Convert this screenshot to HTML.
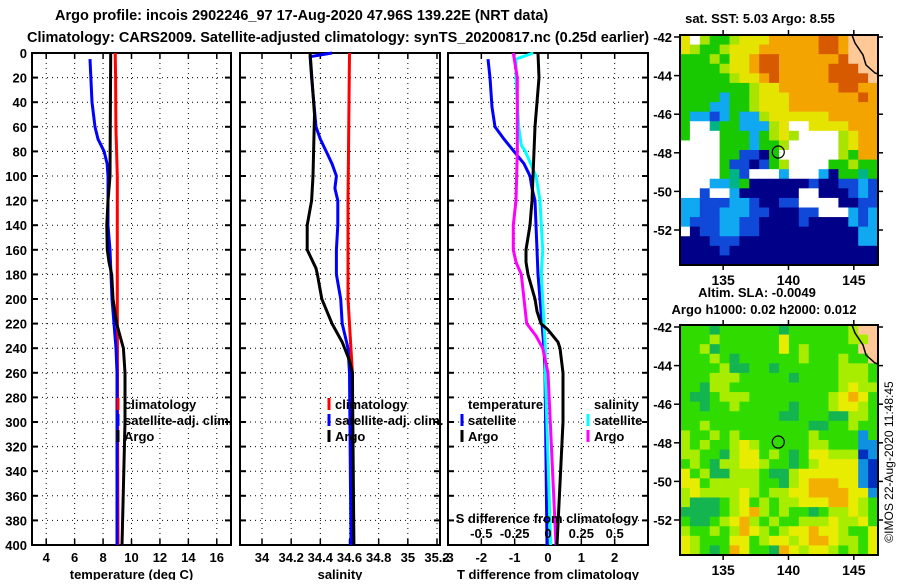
<!DOCTYPE html>
<html><head><meta charset="utf-8"><style>
html,body{margin:0;padding:0;background:#fff;}
svg text{font-family:"Liberation Sans",sans-serif;font-weight:bold;font-size:13px;fill:#000;}
svg text.big{font-size:14.5px;}
</style></head><body>
<svg id="fig" width="900" height="580" viewBox="0 0 900 580" xmlns="http://www.w3.org/2000/svg">
<text class="big" x="55" y="20">Argo profile: incois 2902246_97 17-Aug-2020 47.96S 139.22E (NRT data)</text>
<text class="big" x="27" y="42">Climatology: CARS2009. Satellite-adjusted climatology: synTS_20200817.nc (0.25d earlier)</text>
<text x="760" y="23" text-anchor="middle">sat. SST: 5.03 Argo: 8.55</text>
<text x="757" y="297" text-anchor="middle">Altim. SLA: -0.0049</text>
<text x="764" y="314" text-anchor="middle">Argo h1000: 0.02 h2000: 0.012</text>
<text transform="translate(893,462) rotate(-90)" text-anchor="middle" style="font-weight:normal;font-size:12px">©IMOS 22-Aug-2020 11:48:45</text>
<g id="plots"></g>
</svg>
<script>
// ---- Panel 1: temperature (deg C) vs depth (m)
const tClimDepth=[0,20,60,80,100,200,300,400];
const tClimVal=[8.85,8.88,8.9,8.95,9.0,9.0,9.02,9.05];
const tArgoDepth=[0,100,120,140,160,170,180,200,220,230,240,260,300,400];
const tArgoVal=[8.54,8.49,8.35,8.26,8.30,8.42,8.61,8.70,8.96,9.19,9.43,9.54,9.54,9.33];
const tSatDepth=[5,40,60,70,80,90,100,120,140,160,200,240,260,400];
const tSatVal=[7.08,7.22,7.43,7.64,8.07,8.28,8.35,8.35,8.35,8.49,8.63,8.91,8.98,8.98];
const tTicks=[4,6,8,10,12,14,16];
// ---- Panel 2: salinity
const sClimDepth=[0,120,200,260,400];
const sClimVal=[34.60,34.59,34.59,34.62,34.62];
const sArgoDepth=[0,50,100,120,140,160,165,175,180,200,220,235,250,260,400];
const sArgoVal=[34.33,34.36,34.35,34.34,34.31,34.31,34.33,34.37,34.38,34.41,34.48,34.55,34.60,34.62,34.63];
const sSatDepth=[0,3,20,60,70,80,90,100,110,120,140,160,180,200,220,240,260,400];
const sSatVal=[34.48,34.33,34.34,34.37,34.40,34.44,34.48,34.51,34.50,34.52,34.52,34.51,34.51,34.54,34.55,34.59,34.60,34.61];
const sTicks=[34,34.2,34.4,34.6,34.8,35,35.2];
// ---- Panel 3: differences from climatology
const dTSatDepth=[5,20,44,60,70,80,90,100,110,120,140,160,180,200,220,240,260,400];
const dTSatVal=[-1.80,-1.74,-1.68,-1.59,-1.32,-1.02,-0.72,-0.54,-0.48,-0.39,-0.36,-0.33,-0.30,-0.24,-0.18,-0.12,-0.09,-0.03];
const dTArgoDepth=[0,20,60,100,120,140,160,170,180,200,210,220,225,235,240,260,300,400];
const dTArgoVal=[-0.30,-0.27,-0.39,-0.45,-0.48,-0.54,-0.66,-0.66,-0.60,-0.39,-0.33,-0.21,0,0.30,0.36,0.45,0.45,0.27];
const dSSatDepth=[0,5,20,60,75,80,100,120,140,160,180,220,240,260,400];
const dSSatVal=[-0.11,-0.24,-0.24,-0.22,-0.20,-0.17,-0.09,-0.06,-0.05,-0.04,-0.05,-0.03,-0.02,-0.02,0.02];
const dSArgoDepth=[0,20,80,120,140,160,170,180,200,220,230,240,250,260,400];
const dSArgoVal=[-0.26,-0.23,-0.23,-0.24,-0.26,-0.26,-0.24,-0.20,-0.18,-0.16,-0.09,-0.04,-0.02,0,0.06];
const dTTicks=[-3,-2,-1,0,1,2];
const dTTickLabels=["-3","-2","-1","0","1","2"];
const dSTicks=[-0.5,-0.25,0,0.25,0.5];
const dSTickLabels=["-0.5","-0.25","0","0.25","0.5"];
const depthTicks=[0,20,40,60,80,100,120,140,160,180,200,220,240,260,280,300,320,340,360,380,400];
// ---- Maps (colour-code grids)
const sstGrid=[
"ywlgglyyyoooooOOoLLL","ylgglyyyooooooOOoLLL","ggglgyyoOOooooooOLLL","gggglyyoOOoooooOOOLL",
"ggggglyyoOoooooOOOOL","ggggggglyyooooooOOoo","ggggcgglyyyoooooooOo","gggccgglyyyooooooooo",
"gccbcgcclyyyyyyooooo","gwwtggccclywwyyyyooo","gwwwgggcglylwwwwlyoo","wwwwgggcgglwwwwwlyoo",
"wwwwggbbngwwwwwwlgoo","wwwwgbbnbglwwwwgglgg","wwwwgtbwwwcwwwcnggtg","wwwcctgnnnnnnbnnbbcb",
"wwbwwcnnnnnnwwnnnbcb","ccbbbccbnnbbwwwwnnbb","ccbbcccbbnnnbbwwwcbc","cbbbccbbnnnnbnnnncbc",
"wnbbccbbnnnnnnnnnncc","nnnbbbnnnnnnnnnnnncc","nnnnbnnnnnnnnnnnnnnn","nnnnnnnnnnnnnnnnnnnn"];
const slaGrid=[
"gggGggggggGgggggglLL","ggglggggggyggggggllL","gglGggggggyglgggggLL","ggglgGgggggglggglggL",
"gggglGGggGgggggglllg","ggglllgggggGgggglllg","ggGllggggggggggglyll","gGGglllgggggggglyoyg",
"ggGgglgggggGggglyylg","ggggggggggGGgggGGllg","gglggggggggggGGgglgg","lgglglggggggglggggbg",
"lglgglylgggggllgggbb","llggGlyyglgGgyylllBb","glgGllyylggGglyyyybB","yglGGlllgGGlyyyyyybB",
"yyglllllggGlyoooyybB","lyllllylgllyyooooyyb","lGGGglyglgllyyyooylg","GGGGglyolglggGgllylg",
"gGGglyolglgglllyllyg","lgglgloylglyyoyylggy","ylgggyyglyylyooyllgy","ylgGgoyggGoylyylglgy"];
const sstColors={O:"#d85a00",o:"#f4a400",y:"#e4e400",l:"#a8e400",g:"#18c800",t:"#00b488",c:"#10a8f0",b:"#1048d8",n:"#000088",w:"#ffffff",L:"#ffc896"};
const slaColors={g:"#30dc00",G:"#14b450",l:"#a8ec00",y:"#e8ec00",o:"#f4b000",b:"#1090e0",B:"#0030c0",L:"#ffc896"};
const mapLatTicks=[-42,-44,-46,-48,-50,-52];
const mapLonTicks=[135,140,145];
const argoLon=139.22, argoLat=-47.96;

const NS="http://www.w3.org/2000/svg";
const root=document.getElementById('plots');
function mk(tag,attrs,parent){const e=document.createElementNS(NS,tag);for(const k in attrs)e.setAttribute(k,attrs[k]);(parent||root).appendChild(e);return e;}
function txt(x,y,s,anchor,parent,extra){const t=mk('text',Object.assign({x:x,y:y,'text-anchor':anchor||'start'},extra||{}),parent);t.textContent=s;return t;}

const Y0=53,Y1=545;
const yD=d=>Y0+(d/400)*(Y1-Y0);
function lin(d0,d1,r0,r1){return v=>r0+(v-d0)/(d1-d0)*(r1-r0);}

function panel(name,x0,x1,xs,ticks,labels,showDepth,xtitle){
  const g=mk('g',{});
  
  
  ticks.forEach(t=>{const x=xs(t);if(x>x0+1&&x<x1-1){const l=mk('line',{x1:x,x2:x,y1:Y0,y2:Y1,stroke:'#000','stroke-dasharray':'1,4','stroke-width':1},g);}});
  depthTicks.forEach(d=>{const y=yD(d);if(d>0&&d<400){const l=mk('line',{x1:x0,x2:x1,y1:y,y2:y,stroke:'#000','stroke-dasharray':'1,4','stroke-width':1},g);}
    mk('line',{x1:x0,x2:x0+6,y1:y,y2:y,stroke:'#000','stroke-width':2},g);mk('line',{x1:x1-6,x2:x1,y1:y,y2:y,stroke:'#000','stroke-width':2},g);
    if(showDepth){const t=txt(27,y+5,String(d),'end',g);}});
  ticks.forEach((t,i)=>{const x=xs(t);if(x>x0+1&&x<x1-1){mk('line',{x1:x,x2:x,y1:Y0,y2:Y0+6,stroke:'#000','stroke-width':1.5},g);mk('line',{x1:x,x2:x,y1:Y1-6,y2:Y1,stroke:'#000','stroke-width':1.5},g);}
    if(labels){const tl=txt(x,562,labels[i],'middle',g);}});
  const r=mk('rect',{x:x0,y:Y0,width:x1-x0,height:Y1-Y0,fill:'none',stroke:'#000','stroke-width':2},g);
  
  const tt=txt((x0+x1)/2,579,xtitle,'middle',g);
  return g;
}
function series(g,xs,depths,vals,color,w,name){
  const pts=depths.map((d,i)=>xs(vals[i]).toFixed(1)+','+yD(d).toFixed(1)).join(' ');
  const p=mk('polyline',{points:pts,fill:'none',stroke:color,'stroke-width':w},g);
  
  
}
function legend(g,x,y,color,label,name){
  if(color){mk('line',{x1:x,x2:x,y1:y-11,y2:y+1,stroke:color,'stroke-width':3},g);}
  const t=txt(x+6,y,label,'start',g);
  
  
}

const xT=lin(3,17,32,231);
const g1=panel('temperature-panel',32,231,xT,tTicks,tTicks.map(String),true,'temperature (deg C)');
series(g1,xT,tClimDepth,tClimVal,'#ff0000',3,'temperature-climatology-line');
series(g1,xT,tSatDepth,tSatVal,'#0000ff',3,'temperature-satellite-line');
series(g1,xT,tArgoDepth,tArgoVal,'#000000',3,'temperature-argo-line');
legend(g1,118,409,'#ff0000','climatology','legend-climatology');
legend(g1,118,425,'#0000ff','satellite-adj. clim.','legend-satellite');
legend(g1,118,441,'#000000','Argo','legend-argo');

const xS=lin(34,35.2,262,437);
const g2=panel('salinity-panel',240,440,xS,sTicks,sTicks.map(String),false,'salinity');
series(g2,xS,sClimDepth,sClimVal,'#ff0000',3,'salinity-climatology-line');
series(g2,xS,sSatDepth,sSatVal,'#0000ff',3,'salinity-satellite-line');
series(g2,xS,sArgoDepth,sArgoVal,'#000000',3,'salinity-argo-line');
legend(g2,329,409,'#ff0000','climatology','legend-climatology');
legend(g2,329,425,'#0000ff','satellite-adj. clim.','legend-satellite');
legend(g2,329,441,'#000000','Argo','legend-argo');

const xDT=lin(-3,3,448,648);
const xDS=lin(-0.75,0.75,448,648);
const g3=panel('difference-panel',448,648,xDT,dTTicks,dTTickLabels,false,'T difference from climatology');
series(g3,xDT,dTSatDepth,dTSatVal,'#0000ff',3,'tdiff-satellite-line');
series(g3,xDS,dSSatDepth,dSSatVal,'#00ffff',3,'sdiff-satellite-line');
series(g3,xDS,dSArgoDepth,dSArgoVal,'#ff00ff',3,'sdiff-argo-line');
series(g3,xDT,dTArgoDepth,dTArgoVal,'#000000',3,'tdiff-argo-line');
legend(g3,462,409,null,'temperature','legend-temperature-heading');
legend(g3,462,425,'#0000ff','satellite','legend-t-satellite');
legend(g3,462,441,'#000000','Argo','legend-t-argo');
legend(g3,588,409,null,'salinity','legend-salinity-heading');
legend(g3,588,425,'#00ffff','satellite','legend-s-satellite');
legend(g3,588,441,'#ff00ff','Argo','legend-s-argo');
const st=txt(547,523,'S difference from climatology','middle',g3);


dSTicks.forEach((v,i)=>{const t=txt(xDS(v),538,dSTickLabels[i],'middle',g3);});

const MX0=680,MX1=878;
const lonX=lin(131.7,146.85,MX0,MX1);
function map(name,top,grid,colors){
  const H=230;
  const g=mk('g',{});
  
  
  const rows=grid.length,cols=grid[0].length,cw=(MX1-MX0)/cols,ch=H/rows;
  grid.forEach((row,r)=>{for(let c=0;c<cols;c++){mk('rect',{x:(MX0+c*cw).toFixed(2),y:(top+r*ch).toFixed(2),width:(cw+0.6).toFixed(2),height:(ch+0.6).toFixed(2),fill:colors[row[c]]||'#fff'},g);}});
  mk('polyline',{points:`${MX0+172},${top} ${MX0+175},${top+8} ${MX0+183},${top+20} ${MX0+186},${top+30} ${MX0+195},${top+38} ${MX1},${top+39}`,fill:'none',stroke:'#000','stroke-width':1.5},g);
  mapLatTicks.forEach(v=>{const y=top+2+(-42-v)/2*38.6;mk('line',{x1:MX0-6,x2:MX0,y1:y,y2:y,stroke:'#000','stroke-width':1.5},g);mk('line',{x1:MX1,x2:MX1+5,y1:y,y2:y,stroke:'#000','stroke-width':1.5},g);
    const t=txt(MX0-8,y+5,String(v),'end',g);});
  mapLonTicks.forEach(v=>{const x=lonX(v);mk('line',{x1:x,x2:x,y1:top-5,y2:top,stroke:'#000','stroke-width':1.5},g);mk('line',{x1:x,x2:x,y1:top+H,y2:top+H+5,stroke:'#000','stroke-width':1.5},g);
    const t=txt(x,top+H+20,String(v),'middle',g,{style:'font-size:14px'});});
  const m=mk('circle',{cx:lonX(argoLon),cy:top+2+(-42-argoLat)/2*38.6,r:6,fill:'none',stroke:'#000','stroke-width':1.2},g);
  
  
  mk('rect',{x:MX0,y:top,width:MX1-MX0,height:H,fill:'none',stroke:'#000','stroke-width':2},g);
}
map('sst-map',35,sstGrid,sstColors);
map('sla-map',325,slaGrid,slaColors);
</script>
</body></html>
